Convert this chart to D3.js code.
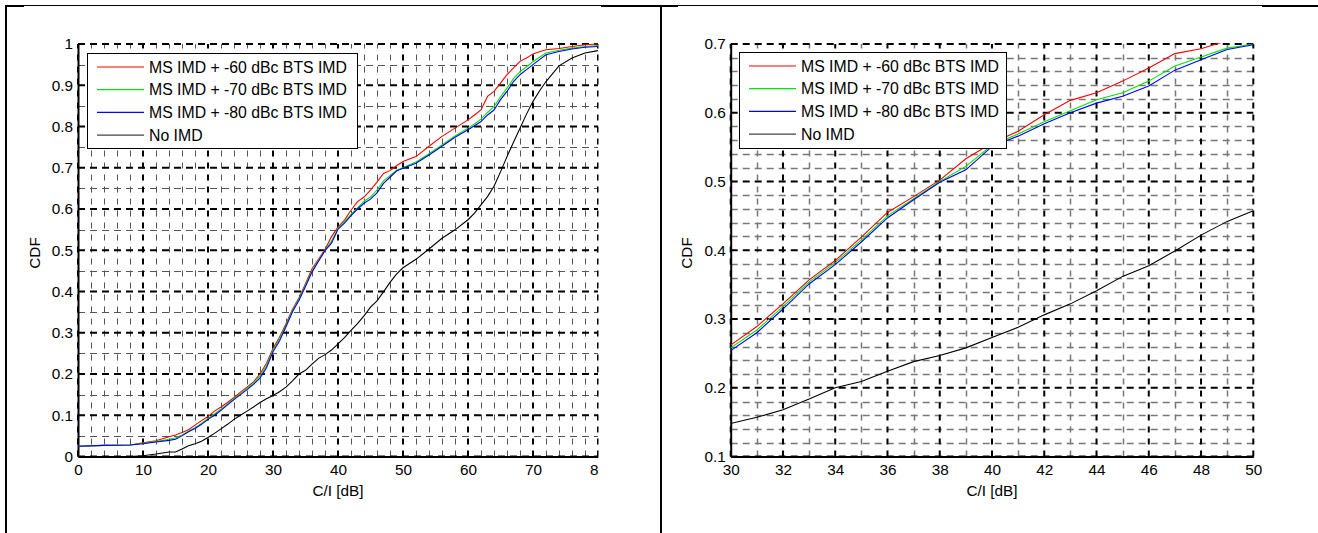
<!DOCTYPE html>
<html><head><meta charset="utf-8">
<script src="https://cdn.jsdelivr.net/npm/d3@7"></script>
<style>
html,body{margin:0;padding:0;background:#fff;}
svg{display:block;font-family:"Liberation Sans",Arial,sans-serif;}
</style></head>
<body>
<svg id="chart" width="1318" height="533"></svg>
<script>
// ---- data (C/I in dB vs CDF) ----
const ci = [0,4,8,10,12,14,15,16,17,18,19,20,21,22,23,24,25,26,27,28,29,30,31,32,33,34,35,36,37,38,39,40,41,42,43,44,45,46,47,48,49,50,52,54,56,58,60,61,62,63,64,65,66,67,68,69,70,71,72,74,76,78,80];
const imd60 = [0.025,0.027,0.028,0.033,0.038,0.048,0.052,0.058,0.065,0.076,0.087,0.097,0.110,0.120,0.131,0.143,0.156,0.168,0.181,0.200,0.226,0.262,0.289,0.322,0.357,0.385,0.419,0.455,0.478,0.502,0.533,0.556,0.573,0.597,0.618,0.629,0.646,0.665,0.686,0.693,0.705,0.715,0.727,0.752,0.776,0.796,0.816,0.828,0.840,0.873,0.885,0.905,0.9255,0.942,0.958,0.966,0.976,0.981,0.986,0.989,0.994,0.998,1.000];
const imd70 = [0.025,0.027,0.028,0.032,0.036,0.042,0.045,0.052,0.061,0.070,0.080,0.092,0.103,0.115,0.127,0.140,0.152,0.165,0.178,0.195,0.220,0.258,0.284,0.318,0.354,0.382,0.415,0.450,0.475,0.500,0.522,0.553,0.569,0.587,0.603,0.619,0.629,0.646,0.668,0.681,0.694,0.700,0.714,0.734,0.755,0.777,0.796,0.806,0.818,0.834,0.848,0.872,0.893,0.916,0.933,0.945,0.957,0.968,0.978,0.985,0.990,0.994,0.996];
const imd80 = [0.025,0.027,0.028,0.031,0.035,0.039,0.042,0.050,0.060,0.068,0.078,0.090,0.100,0.112,0.125,0.138,0.150,0.162,0.175,0.190,0.215,0.254,0.280,0.3145,0.351,0.379,0.412,0.447,0.4735,0.499,0.517,0.551,0.566,0.584,0.600,0.614,0.624,0.639,0.662,0.677,0.692,0.699,0.711,0.731,0.752,0.774,0.792,0.802,0.812,0.828,0.840,0.865,0.885,0.909,0.9255,0.938,0.950,0.962,0.974,0.982,0.988,0.992,0.994];
const noImd = [0,0,0,0.002,0.006,0.011,0.011,0.018,0.026,0.031,0.037,0.046,0.056,0.067,0.078,0.090,0.100,0.110,0.120,0.131,0.140,0.148,0.157,0.168,0.1835,0.200,0.209,0.224,0.238,0.247,0.258,0.273,0.288,0.306,0.322,0.341,0.362,0.3775,0.399,0.422,0.442,0.4575,0.478,0.503,0.529,0.5495,0.574,0.590,0.610,0.630,0.655,0.690,0.727,0.762,0.796,0.830,0.861,0.886,0.909,0.947,0.966,0.978,0.984];

const seriesNames = ["MS IMD + -60 dBc BTS IMD","MS IMD + -70 dBc BTS IMD","MS IMD + -80 dBc BTS IMD","No IMD"];
const seriesValues = [imd60, imd70, imd80, noImd];
const seriesColors = ["#ff0000","#00e600","#0000ff","#000000"];

const leftXTicks = [0,10,20,30,40,50,60,70,80];
const leftYTicks = [0,0.1,0.2,0.3,0.4,0.5,0.6,0.7,0.8,0.9,1];
const rightXTicks = [30,32,34,36,38,40,42,44,46,48,50];
const rightYTicks = [0.1,0.2,0.3,0.4,0.5,0.6,0.7];
const xLabel = "C/I [dB]";
const yLabel = "CDF";

const svg = d3.select("#chart");

// ---- page frame (table borders) ----
const frame = svg.append("g");
frame.append("rect").attr("x",5).attr("y",5).attr("width",1313).attr("height",1).attr("fill","#000");
[[5,24],[601,678],[1262,1318]].forEach(s=>{
  frame.append("rect").attr("x",s[0]).attr("y",5).attr("width",s[1]-s[0]).attr("height",2).attr("fill","#000");
});
frame.append("rect").attr("x",5).attr("y",5).attr("width",2).attr("height",528).attr("fill","#000");
frame.append("rect").attr("x",660).attr("y",5).attr("width",2).attr("height",528).attr("fill","#000");

function panel(cfg){
  const g = svg.append("g");
  const clipId = cfg.id+"-clip", areaId = cfg.id+"-area";
  const defs = svg.append("defs");
  defs.append("clipPath").attr("id",clipId).append("rect")
    .attr("x",cfg.clip[0]).attr("y",0).attr("width",cfg.clip[1]-cfg.clip[0]).attr("height",533);
  const x = d3.scaleLinear().domain(cfg.xDomain).range(cfg.xRange);
  const y = d3.scaleLinear().domain(cfg.yDomain).range(cfg.yRange);
  defs.append("clipPath").attr("id",areaId).append("rect")
    .attr("x",cfg.xRange[0]).attr("y",cfg.yRange[1]-1).attr("width",cfg.xRange[1]-cfg.xRange[0]).attr("height",cfg.yRange[0]-cfg.yRange[1]+1);
  const root = g.attr("clip-path",`url(#${clipId})`);

  // grid: minor then major
  const xMinor = d3.range(cfg.xDomain[0], cfg.xDomain[1]+1e-9, cfg.xMinor).filter(v=>!cfg.xTicks.some(t=>Math.abs(t-v)<1e-9));
  const yMinor = d3.range(cfg.yDomain[0], cfg.yDomain[1]+1e-9, cfg.yMinor).filter(v=>!cfg.yTicks.some(t=>Math.abs(t-v)<1e-9));
  const grid = root.append("g");
  grid.selectAll(".hmin").data(yMinor).join("line")
    .attr("x1",cfg.xRange[0]).attr("x2",cfg.xRange[1]).attr("y1",d=>Math.round(y(d))+0.5).attr("y2",d=>Math.round(y(d))+0.5)
    .attr("stroke",cfg.minorColor).attr("stroke-width",cfg.minorW).attr("stroke-dasharray","7,5");
  grid.selectAll(".vmin").data(xMinor).join("line")
    .attr("x1",d=>Math.round(x(d))+0.5).attr("x2",d=>Math.round(x(d))+0.5).attr("y1",cfg.yRange[0]).attr("y2",cfg.yRange[1])
    .attr("stroke",cfg.minorColor).attr("stroke-width",cfg.minorW).attr("stroke-dasharray","6,6");
  grid.selectAll(".hmaj").data(cfg.yTicks).join("line")
    .attr("x1",cfg.xRange[0]).attr("x2",cfg.xRange[1]).attr("y1",d=>y(d)).attr("y2",d=>y(d))
    .attr("stroke","#000").attr("stroke-width",2).attr("stroke-dasharray","7,5");
  grid.selectAll(".vmaj").data(cfg.xTicks).join("line")
    .attr("x1",d=>x(d)).attr("x2",d=>x(d)).attr("y1",cfg.yRange[0]).attr("y2",cfg.yRange[1])
    .attr("stroke","#000").attr("stroke-width",2).attr("stroke-dasharray","6,6");

  // axes
  const xAxis = d3.axisBottom(x).tickValues(cfg.xTicks).tickSize(0).tickPadding(8).tickFormat(d3.format("~g"));
  const yAxis = d3.axisLeft(y).tickValues(cfg.yTicks).tickSize(0).tickPadding(5).tickFormat(d3.format("~g"));
  const xa = root.append("g").attr("transform",`translate(0,${cfg.yRange[0]})`).call(xAxis);
  const ya = root.append("g").attr("transform",`translate(${cfg.xRange[0]},0)`).call(yAxis);
  [xa,ya].forEach(a=>{
    a.select(".domain").attr("stroke","#000").attr("stroke-width",2);
    a.selectAll("text").attr("font-size","15.3px").attr("fill","#000").attr("font-family",'"Liberation Sans",Arial,sans-serif');
  });

  // lines
  const lg = root.append("g").attr("clip-path",`url(#${areaId})`);
  seriesValues.forEach((vals,i)=>{
    const pts = ci.map((c,k)=>[c,vals[k]]);
    lg.append("path").datum(pts)
      .attr("d",d3.line().x(d=>x(d[0])).y(d=>y(d[1])))
      .attr("fill","none").attr("stroke",seriesColors[i]).attr("stroke-width",1.1);
  });

  // labels
  root.append("text").attr("x",(cfg.xRange[0]+cfg.xRange[1])/2).attr("y",495.5)
    .attr("text-anchor","middle").attr("font-size","15.3px").text(xLabel);
  root.append("text").attr("transform",`translate(${cfg.yLabelX},253) rotate(-90)`)
    .attr("text-anchor","middle").attr("dominant-baseline","central").attr("font-size","15.3px").text(yLabel);

  // legend
  const L = cfg.legend;
  const leg = root.append("g");
  leg.append("rect").attr("x",L.x+0.5).attr("y",L.y+0.5).attr("width",L.w).attr("height",L.h)
    .attr("fill","#fff").attr("stroke","#000").attr("stroke-width",1);
  seriesNames.forEach((n,i)=>{
    const yy = L.y + 14 + i*22.7;
    leg.append("line").attr("x1",L.x+10).attr("x2",L.x+57).attr("y1",yy).attr("y2",yy)
      .attr("stroke",i===3?"#444":seriesColors[i]).attr("stroke-width",1.2);
    leg.append("text").attr("x",L.x+62).attr("y",yy).attr("dominant-baseline","central")
      .attr("font-size","15.8px").text(n);
  });
}

panel({id:"left", clip:[24,598.5], xDomain:[0,80], xRange:[78,598], yDomain:[0,1], yRange:[456.5,44],
  xTicks:leftXTicks, yTicks:leftYTicks, xMinor:2, yMinor:0.05, minorColor:"#555", minorW:1,
  yLabelX:34, legend:{x:87, y:53, w:270, h:95}});
panel({id:"right", clip:[678,1262], xDomain:[30,50], xRange:[730.7,1253.3], yDomain:[0.1,0.7], yRange:[456.5,44],
  xTicks:rightXTicks, yTicks:rightYTicks, xMinor:1, yMinor:0.02, minorColor:"#777", minorW:1.5,
  yLabelX:686, legend:{x:739, y:52, w:267, h:96}});
</script>
</body></html>
